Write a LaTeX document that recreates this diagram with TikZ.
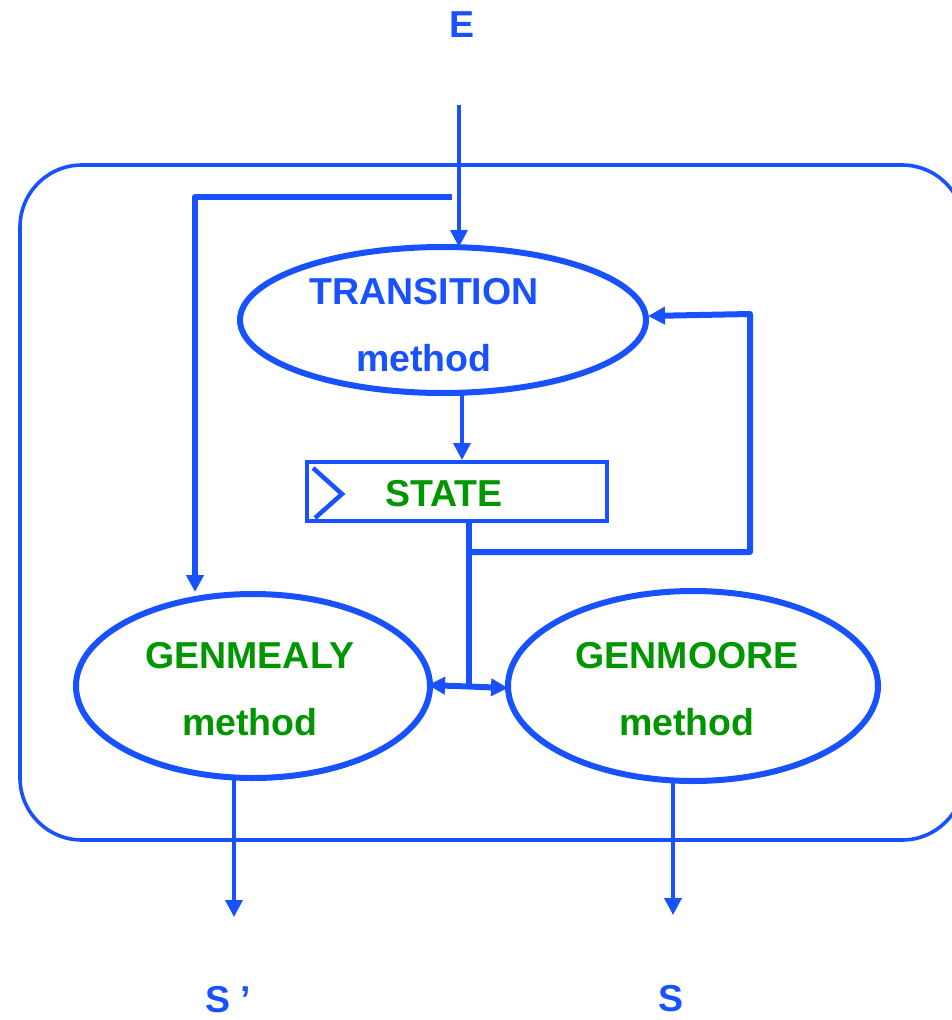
\documentclass[tikz,border=0pt]{standalone}
\usepackage{fontspec}
\setmainfont{Liberation Sans}
\usetikzlibrary{arrows.meta,shapes.geometric}
\definecolor{lineblue}{RGB}{24,82,255}
\definecolor{textgreen}{RGB}{0,150,0}
\begin{document}
\begin{tikzpicture}[x=1pt,y=-1pt,
  thick line/.style={draw=lineblue,line width=6pt},
  thin line/.style={draw=lineblue,line width=3.6pt},
  tip/.style={-{Triangle[length=17pt,width=17pt]}},
  method/.style={ellipse,draw=lineblue,line width=6pt,inner sep=0pt},
  label/.style={font=\fontsize{37.5}{40}\selectfont\bfseries},
  bluetext/.style={label,text=lineblue},
  greentext/.style={label,text=textgreen}]
\useasboundingbox (0,0) rectangle (952,1020);
\begin{scope}
\clip (0,0) rectangle (952,1020);
% outer frame, running slightly past the right edge
\draw[thin line,rounded corners=62pt] (20,165) rectangle (964,840);
\end{scope}

% ellipses
\node[method,minimum width=406pt,minimum height=146pt] (trans) at (443,320) {};
\node[method,minimum width=354pt,minimum height=184pt] (mealy) at (253,686) {};
\node[method,minimum width=370pt,minimum height=190pt] (moore) at (693,686) {};

\node[bluetext] at (424,292) {TRANSITION};
\node[bluetext] at (424,358) {method};
\node[greentext] at (250,656) {GENMEALY};
\node[greentext] at (250,722) {method};
\node[greentext] at (687,656) {GENMOORE};
\node[greentext] at (687,722) {method};

% state register with clock mark
\node[draw=lineblue,line width=3.6pt,minimum width=300pt,minimum height=59pt,inner sep=0pt] (state) at (457,491.5) {};
\node[greentext] at (444,494) {STATE};
\draw[lineblue,line width=4.5pt] (313,468) -- (342,494) -- (315,518);

% labels outside
\node[bluetext,inner sep=1pt] (E) at (462,25) {E};
\node[bluetext,inner sep=1pt] (Sp) at (228,1000) {S\hspace{10pt}’};
\node[bluetext,inner sep=1pt] (S) at (671,999) {S};

% input and feedback wiring
\coordinate (ein) at (459,105);
\coordinate (etop) at (459,247);
\draw[thin line,tip] (ein) -- (etop);
\coordinate (bstart) at (452,197);
\coordinate (bcorner) at (195,197);
\coordinate (mtop) at (195,592);
\draw[thick line,tip,line join=round] (bstart) -- (bcorner) -- (mtop);

\coordinate (tbot) at (462,395);
\coordinate (stop) at (462,460);
\draw[thin line,tip] (tbot) -- (stop);

\coordinate (sbot) at (469,521);
\coordinate (junc) at (469,686);
\draw[thick line] (sbot) -- (junc);
\coordinate (fb) at (469,552);
\coordinate (fbr) at (750,552);
\coordinate (fbt) at (750,314);
\coordinate (tright) at (648,316);
\draw[thick line,tip,line join=round] (fb) -- (fbr) -- (fbt) -- (tright);

\coordinate (mealyr) at (428,685);
\coordinate (moorel) at (508,688);
\draw[thick line,{Triangle[length=17pt,width=17pt]}-{Triangle[length=17pt,width=17pt]}] (mealyr) -- (moorel);

% outputs
\coordinate (mo) at (234,778);
\coordinate (moe) at (234,917);
\draw[thin line,tip] (mo) -- (moe);
\coordinate (oo) at (673,778);
\coordinate (ooe) at (673,915);
\draw[thin line,tip] (oo) -- (ooe);
\end{tikzpicture}
\end{document}
